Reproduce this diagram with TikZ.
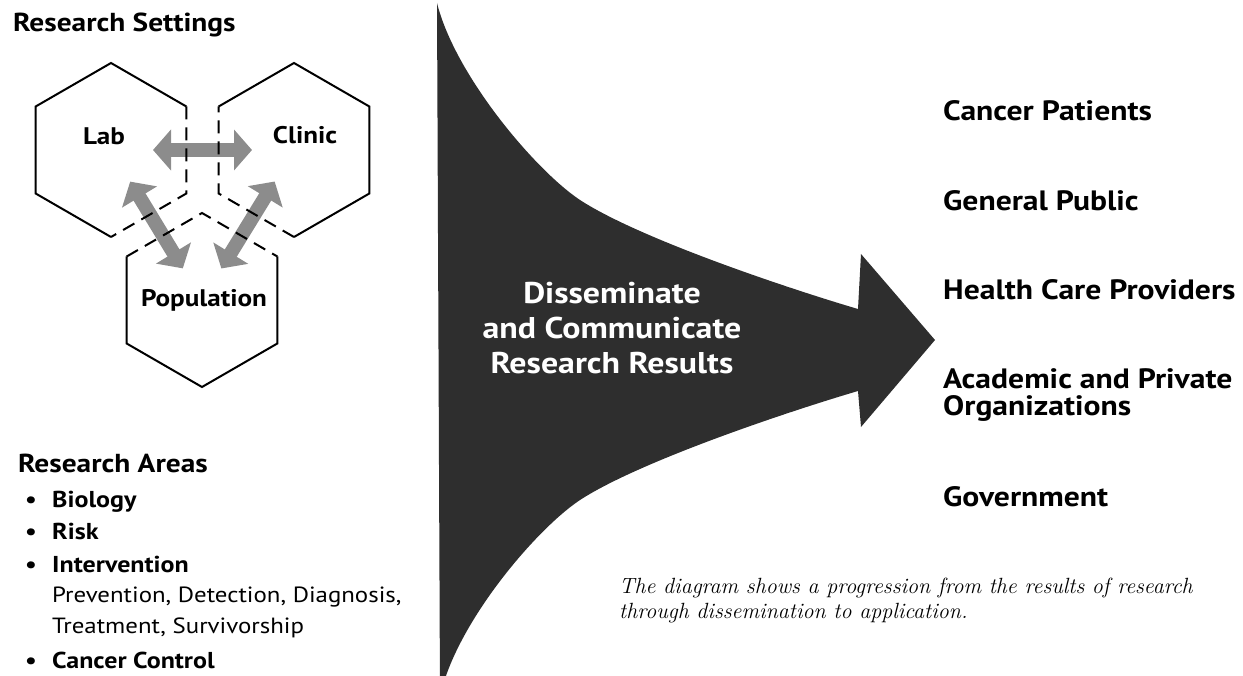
\documentclass[tikz,border=0pt]{standalone}
\usepackage{fontspec}
\setsansfont[FakeStretch=1.13]{PT Sans}
\usetikzlibrary{calc,arrows.meta}

\begin{document}
\begin{tikzpicture}[x=1pt,y=-1pt,
  hexline/.style={line width=2pt},
  hexdash/.style={line width=2pt,dash pattern=on 13pt off 8pt},
  setarrow/.style={line width=14pt,draw=black!45,{Triangle[width=40pt,length=18pt]}-{Triangle[width=40pt,length=18pt]}},
  funnel/.style={fill=black!82},
  head/.style={font=\sffamily\bfseries\fontsize{26}{30}\selectfont,anchor=base west,inner sep=0pt},
  hexlabel/.style={font=\sffamily\bfseries\fontsize{24}{28}\selectfont,anchor=base,inner sep=0pt},
  areaitem/.style={font=\sffamily\bfseries\fontsize{23}{27}\selectfont,anchor=base west,inner sep=0pt},
  areasub/.style={font=\sffamily\fontsize{22}{26}\selectfont,anchor=base west,inner sep=0pt},
  audience/.style={font=\sffamily\bfseries\fontsize{28}{28}\selectfont,anchor=base west,inner sep=0pt,align=left},
  funneltext/.style={text=white,font=\sffamily\bfseries\fontsize{30}{35}\selectfont,align=center,inner sep=0pt},
  note/.style={font=\itshape\fontsize{22}{25}\selectfont,anchor=base west,align=left,inner sep=0pt}]
\useasboundingbox (0,0) rectangle (1243,676);

% the research settings
\coordinate (labhex) at (111,150);
\coordinate (clinichex) at (294,150);
\coordinate (pophex) at (202,300);

\draw[setarrow,shorten <=42pt,shorten >=42pt] (labhex) -- (clinichex);
\draw[setarrow,shorten <=37pt,shorten >=37pt] (labhex) -- (pophex);
\draw[setarrow,shorten <=37pt,shorten >=37pt] (clinichex) -- (pophex);

\foreach \h/\s in {labhex/90,clinichex/210,pophex/330} {
   \draw[hexline] ($(\h)+(\s:87)$) -- ($(\h)+(\s+60:87)$) -- ($(\h)+(\s+120:87)$)
      -- ($(\h)+(\s+180:87)$) -- ($(\h)+(\s+240:87)$);
   \draw[hexdash] ($(\h)+(\s+240:87)$) -- ($(\h)+(\s+300:87)$) -- ($(\h)+(\s+360:87)$);
}

\node[head] (settings) at (13,32) {Research Settings};
\node[hexlabel] (lab) at (104,145) {Lab};
\node[hexlabel] (clinic) at (305,144) {Clinic};
\node[hexlabel] (pop) at (204,307) {Population};

% the research areas
\node[head] (areas) at (18,472) {Research Areas};
\foreach \y/\t [count=\i] in {507/Biology,539/Risk,572/Intervention,668/Cancer Control} {
   \node[areaitem,anchor=base] (bul\i) at (31,\y) {\textbullet};
   \node[areaitem] (area\i) at (52,\y) {\t};
}
\node[areasub] (sub1) at (52,602) {Prevention, Detection, Diagnosis,};
\node[areasub] (sub2) at (52,633) {Treatment, Survivorship};

% the big arrow
\fill[funnel] (437,3) .. controls (455,75) and (535,170) .. (580,200)
   .. controls (640,239) and (790,289) .. (858,309) -- (861,254) -- (935,340)
   -- (861,427) -- (858,391) .. controls (790,411) and (640,461) .. (580,500)
   .. controls (535,530) and (455,625) .. (440,697) -- cycle;
\node[funneltext] (dissem) at (612,328) {Disseminate\\and Communicate\\Research Results};

% who it reaches
\foreach \n/\y/\t in {patients/121/Cancer Patients,public/211/General Public,%
   providers/300/Health Care Providers,govt/506/Government} {
   \node[audience] (\n) at (943,\y) {\t};
}
\node[audience] (orgs) at (943,416) {Academic and Private\\Organizations};

\node[note] (caption) at (619,618) {The diagram shows a progression from the results of research\\through dissemination to application.};
\end{tikzpicture}
\end{document}
